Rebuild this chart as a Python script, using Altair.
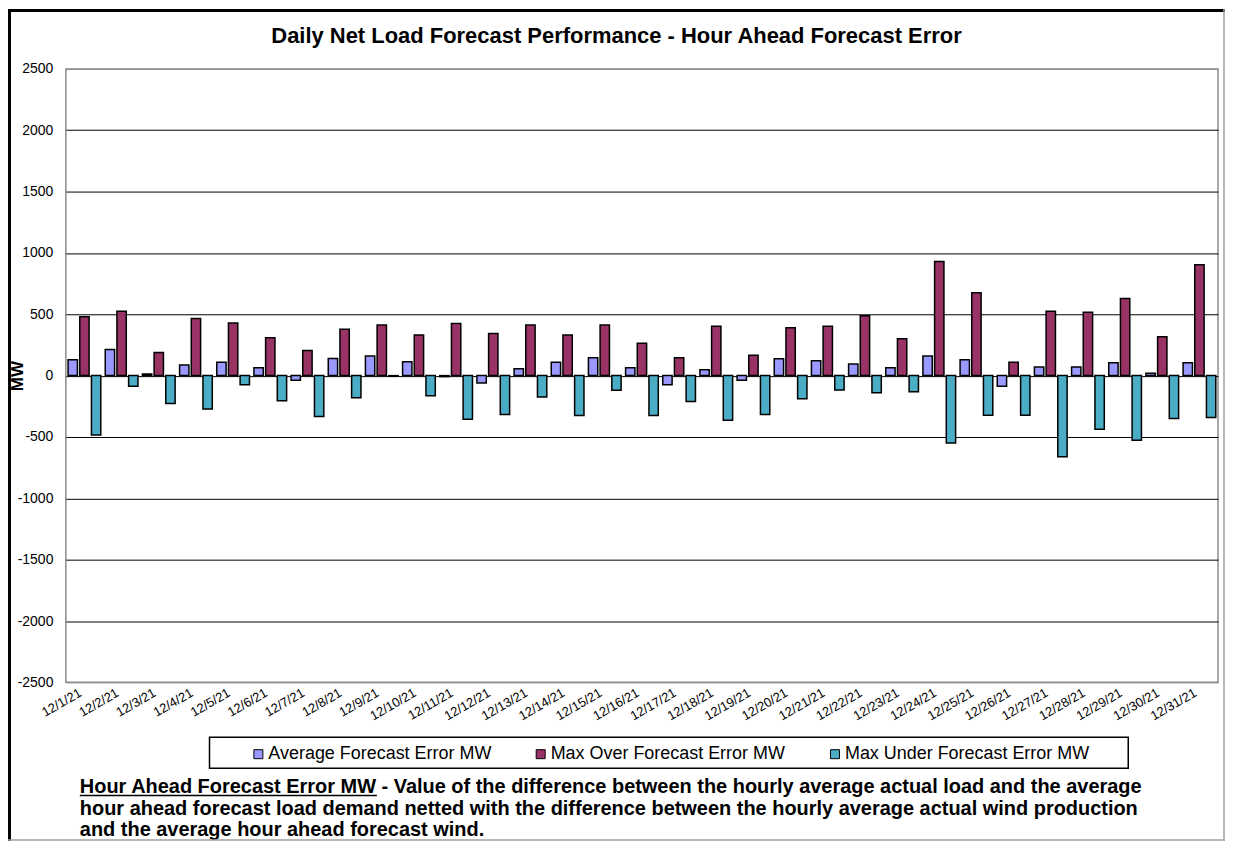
import altair as alt
import pandas as pd

dates = ["12/1/21", "12/2/21", "12/3/21", "12/4/21", "12/5/21", "12/6/21", "12/7/21",
         "12/8/21", "12/9/21", "12/10/21", "12/11/21", "12/12/21", "12/13/21", "12/14/21",
         "12/15/21", "12/16/21", "12/17/21", "12/18/21", "12/19/21", "12/20/21", "12/21/21",
         "12/22/21", "12/23/21", "12/24/21", "12/25/21", "12/26/21", "12/27/21", "12/28/21",
         "12/29/21", "12/30/21", "12/31/21"]

avg_error = [129, 213, 13, 86, 108, 65, -38, 140, 159, 113, -8, -60, 56, 108, 145, 65,
             -74, 48, -38, 137, 121, 94, 65, 159, 129, -86, 70, 70, 105, 19, 105]
max_over = [479, 525, 188, 466, 428, 309, 204, 377, 412, 331, 425, 344, 412, 331, 412, 264,
            145, 403, 167, 390, 403, 487, 301, 931, 675, 108, 525, 516, 629, 317, 904]
max_under = [-483, -87, -227, -273, -74, -205, -333, -180, -5, -164, -355, -317, -175, -325,
             -120, -325, -210, -363, -317, -188, -118, -140, -132, -549, -323, -323, -662,
             -438, -527, -350, -342]

series = ["Average Forecast Error MW", "Max Over Forecast Error MW", "Max Under Forecast Error MW"]
colors = ["#9999FF", "#993366", "#4BACC6"]
y_ticks = [2500, 2000, 1500, 1000, 500, 0, -500, -1000, -1500, -2000, -2500]

title_text = "Daily Net Load Forecast Performance - Hour Ahead Forecast Error"
footer_label = "Hour Ahead Forecast Error MW"
footer_lines = [
    "Hour Ahead Forecast Error MW - Value of the difference between the hourly average actual load and the average",
    "hour ahead forecast load demand netted with the difference between the hourly average actual wind production",
    "and the average hour ahead forecast wind.",
]

rows = []
for s, vals in zip(series, [avg_error, max_over, max_under]):
    for d, v in zip(dates, vals):
        rows.append({"date": d, "series": s, "value": v})
df = pd.DataFrame(rows)

FONT = "Liberation Sans"
W, H = 1155, 615

# Arial/Liberation Sans Bold advance widths (per 1000 em) used for the underline length
BOLD_W = {" ": 278, "A": 722, "E": 667, "F": 611, "H": 722, "M": 833, "W": 944,
          "a": 556, "c": 556, "d": 611, "e": 556, "o": 611, "r": 389, "s": 556,
          "t": 333, "u": 611, "h": 611}


def tw(s, size):
    return sum(BOLD_W.get(c, 556) for c in s) / 1000.0 * size


FS = 20
X0 = 14
line_y = [726, 748, 769]

bars = alt.Chart(df).mark_bar(stroke="black", strokeWidth=1.5).encode(
    x=alt.X("date:N", sort=dates,
            scale=alt.Scale(paddingInner=0.12, paddingOuter=0.06),
            axis=alt.Axis(title=None, labelAngle=-30, labelFontSize=13, labelFont=FONT,
                          labelColor="black", ticks=False, domain=False, labelPadding=4,
                          labelOffset=-7, grid=False)),
    xOffset=alt.XOffset("series:N", sort=series, scale=alt.Scale(paddingInner=0.2)),
    y=alt.Y("value:Q", scale=alt.Scale(domain=[-2500, 2500], nice=False),
            axis=alt.Axis(values=y_ticks, labelExpr="'' + datum.value", title="MW",
                          titleFontSize=17, titleFont=FONT, titleFontWeight="bold",
                          titleColor="black", titleAngle=270, titleX=-48, titleY=H / 2,
                          titleBaseline="middle", titleAlign="center",
                          labelFontSize=14, labelFont=FONT, labelColor="black",
                          labelPadding=13, ticks=False, domain=False, grid=True,
                          gridColor=alt.condition("abs(datum.value) == 2500",
                                                  alt.value("#8c8c8c"), alt.value("#000000")),
                          gridWidth=1)),
    color=alt.Color("series:N", sort=series,
                    scale=alt.Scale(domain=series, range=colors),
                    legend=alt.Legend(orient="none", legendX=184, legendY=678,
                                      direction="horizontal", title=None,
                                      labelFontSize=18, labelFont=FONT, labelColor="black",
                                      symbolType="square", symbolSize=81,
                                      symbolStrokeColor="black", symbolStrokeWidth=1,
                                      symbolOpacity=1, labelOffset=1, columnPadding=40,
                                      padding=0, labelLimit=400)),
)

one = alt.Data(values=[{}])

title = alt.Chart(one).mark_text(text=title_text, font=FONT, fontSize=22, fontWeight="bold",
                                 align="center", baseline="middle", color="black").encode(
    x=alt.value(552), y=alt.value(-33))

footer_layers = [
    alt.Chart(one).mark_text(text=line, font=FONT, fontSize=FS, fontWeight="bold",
                             align="left", baseline="alphabetic", color="black").encode(
        x=alt.value(X0), y=alt.value(yb))
    for line, yb in zip(footer_lines, line_y)
]

underline = alt.Chart(one).mark_rule(color="black", strokeWidth=1.5).encode(
    x=alt.value(X0), x2=alt.value(round(X0 + tw(footer_label, FS), 1)),
    y=alt.value(line_y[0] + 2.5))

legend_box = alt.Chart(one).mark_rect(fill="transparent", stroke="black", strokeWidth=1.5).encode(
    x=alt.value(144), x2=alt.value(1065), y=alt.value(670), y2=alt.value(701))

frame_top = alt.Chart(one).mark_rule(color="black", strokeWidth=3).encode(
    x=alt.value(-58), x2=alt.value(1162), y=alt.value(-58.5))
frame_left = alt.Chart(one).mark_rule(color="black", strokeWidth=3).encode(
    x=alt.value(-56.5), y=alt.value(-60), y2=alt.value(774))
frame_right = alt.Chart(one).mark_rule(color="#a0a0a0", strokeWidth=1.5).encode(
    x=alt.value(1161), y=alt.value(-60), y2=alt.value(774))
frame_bottom = alt.Chart(one).mark_rule(color="#a0a0a0", strokeWidth=1.5).encode(
    x=alt.value(-58), x2=alt.value(1162), y=alt.value(773))

chart = alt.layer(
    bars, title, *footer_layers, underline, legend_box,
    frame_top, frame_left, frame_right, frame_bottom
).properties(
    width=W, height=H,
    padding={"left": 58, "top": 60, "right": 7, "bottom": 159},
    autosize=alt.AutoSizeParams(type="none"),
    background="white",
).configure_view(stroke="#8c8c8c", strokeWidth=1.5)

chart.save("out.html", embed_options={"renderer": "svg", "actions": False})
